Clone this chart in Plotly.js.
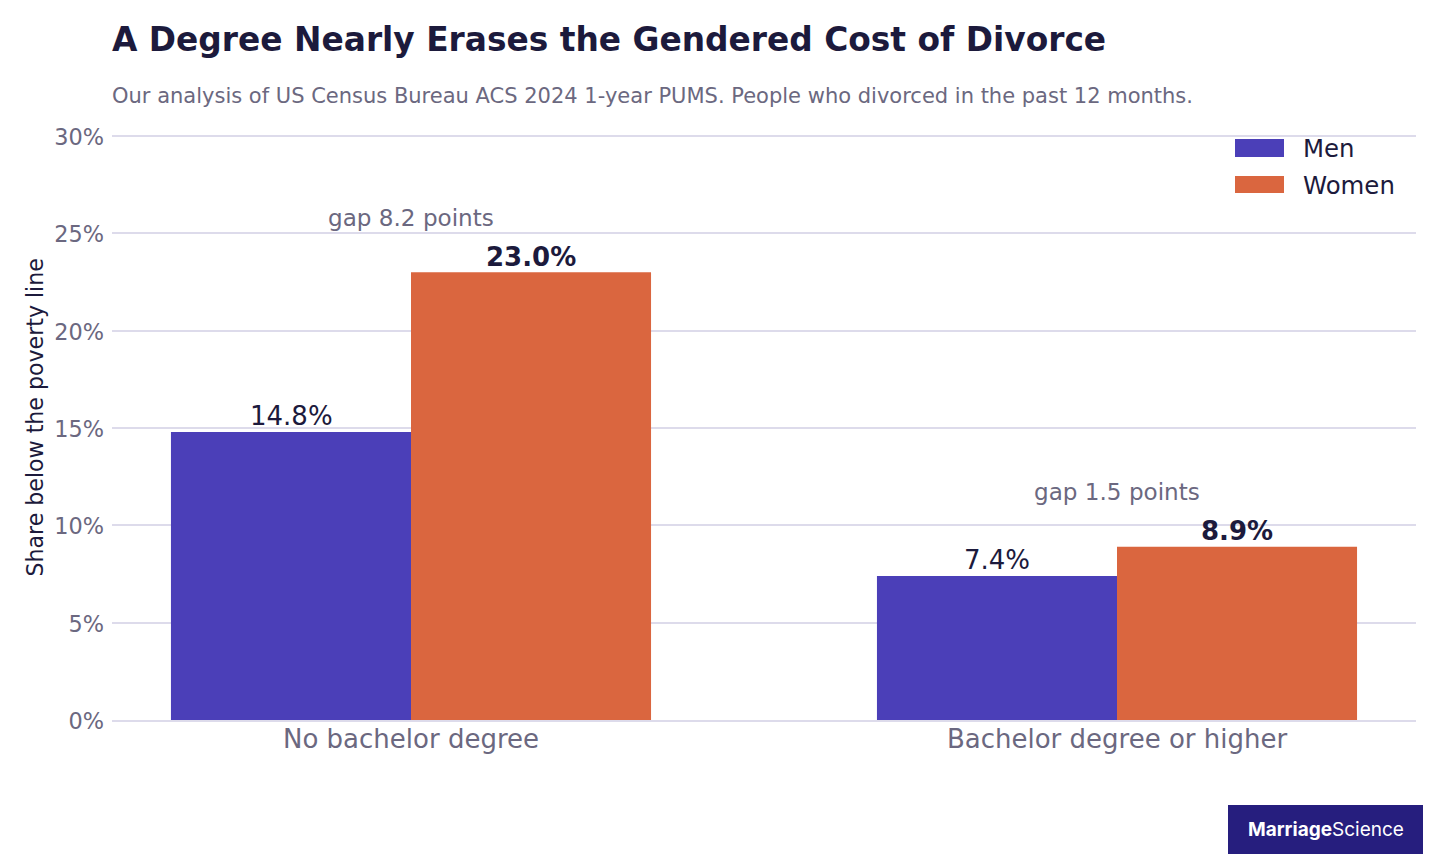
<!DOCTYPE html>
<html><head><meta charset="utf-8">
<script src="https://cdn.plot.ly/plotly-3.0.1.min.js"></script>
<style>html,body{margin:0;padding:0;background:#fff}#c{width:1440px;height:864px}</style>
</head><body><div id="c"></div>
<script>
const categories = ["No bachelor degree", "Bachelor degree or higher"];
const menValues = [14.8, 7.4];
const womenValues = [23.0, 8.9];
const menLabels = ["14.8%", "7.4%"];
const womenLabels = ["<b>23.0%</b>", "<b>8.9%</b>"];
const gapLabels = ["gap 8.2 points", "gap 1.5 points"];
const gapHeights = [25.8, 11.7];
const yTicks = [0, 5, 10, 15, 20, 25, 30];
const yTickLabels = ["0%", "5%", "10%", "15%", "20%", "25%", "30%"];

const FONT = "DejaVu Sans, sans-serif";
const INK = "#1c1a3c", MUTED = "#6b6880", GRID = "#dddbeb";
const MEN = "#4b3fb8", WOMEN = "#da663f";
const L=112, W=1304, T=132, H=588;
const px = v => (v-L)/W, py = v => (T+H-v)/H;

const traces = [
  {type:"bar", name:"Men", x:categories, y:menValues, marker:{color:MEN}, hoverinfo:"skip"},
  {type:"bar", name:"Women", x:categories, y:womenValues, marker:{color:WOMEN}, hoverinfo:"skip"}
];
const annotations = categories.map((c,i)=>({x:c,y:gapHeights[i],xref:"x",yref:"y",text:gapLabels[i],showarrow:false,
  font:{family:FONT,size:23.1,color:MUTED},xanchor:"center",yanchor:"middle",xshift:-0.5}));
categories.forEach((c,i)=>{
  const label=(y,text,xshift)=>({x:c,y,xref:"x",yref:"y",text,showarrow:false,xshift,yshift:15.5,
    font:{family:FONT,size:26,color:INK},xanchor:"center",yanchor:"middle"});
  annotations.push(label(menValues[i],menLabels[i],-120),label(womenValues[i],womenLabels[i],120));
});
const note = (x,y,text,size,color,extra) => Object.assign({xref:"paper",yref:"paper",x:px(x),y:py(y),xanchor:"left",yanchor:"middle",
  showarrow:false,text,font:{family:FONT,size,color},borderpad:0},extra||{});
annotations.push(
 note(111,40,"<b>A Degree Nearly Erases the Gendered Cost of Divorce</b>",32.85,INK),
 note(111,96,"Our analysis of US Census Bureau ACS 2024 1-year PUMS. People who divorced in the past 12 months.",21,MUTED),
 note(34,417.5,"Share below the poverty line",22.1,INK,{xanchor:"center",textangle:-90}),
 note(1302,148,"Men",24.4,INK),
 note(1302,185,"Women",24.4,INK),
 note(1325.5,829,"<b>Marriage</b>Science",19,"#ffffff",{xanchor:"center"})
);
annotations[annotations.length-1].font.family="Inter, sans-serif";
const rect = (x0,x1,y0,y1,color) => ({type:"rect",xref:"paper",yref:"paper",x0:px(x0),x1:px(x1),y0:py(y1),y1:py(y0),
  fillcolor:color,line:{width:0},layer:"above"});
const layout = {
  width:1440,height:864,margin:{l:L,r:24,t:T,b:144,pad:0},autosize:false,
  paper_bgcolor:"#fff",plot_bgcolor:"#fff",showlegend:false,
  barmode:"group",bargap:0.32,bargroupgap:0,
  font:{family:FONT},
  xaxis:{type:"category",range:[-0.4235,1.4235],tickfont:{family:FONT,size:26,color:MUTED},showgrid:false,
    showline:true,linecolor:GRID,linewidth:2,ticks:"",zeroline:false,ticklabelstandoff:-5},
  yaxis:{range:[0,30.205],tickvals:yTicks,ticktext:yTickLabels,tickfont:{family:FONT,size:22.4,color:MUTED},
    gridcolor:GRID,gridwidth:2,zeroline:false,ticks:"",ticklabelstandoff:7,ticklabelshift:1},
  annotations,
  shapes:[rect(1228,1423,805,854,"#261e7e"),rect(1235,1284,139,157,MEN),rect(1235,1284,176,193,WOMEN)]
};
Plotly.newPlot("c",traces,layout,{displayModeBar:false,staticPlot:true});
</script></body></html>
